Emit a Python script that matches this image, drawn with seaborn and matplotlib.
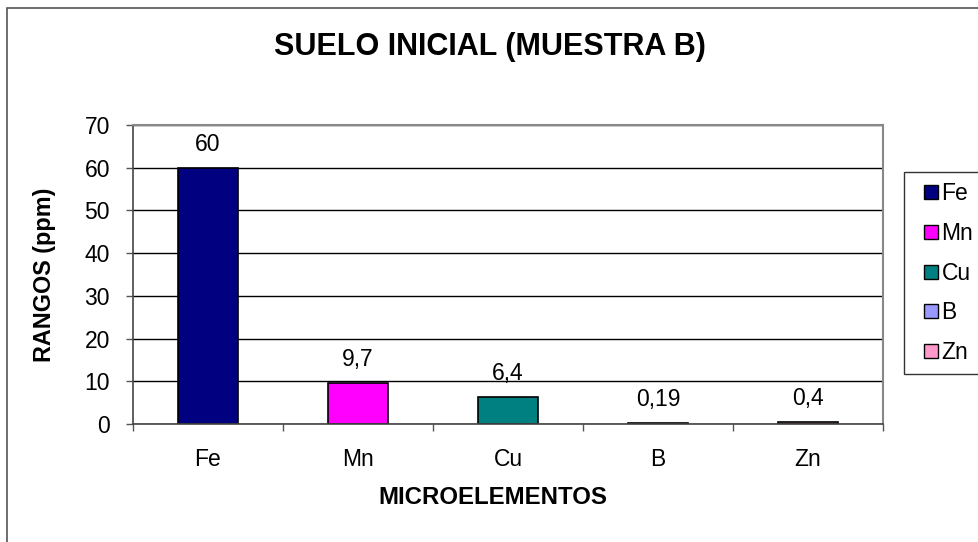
import matplotlib
matplotlib.use("Agg")
import matplotlib.pyplot as plt
import seaborn as sns
import pandas as pd
from matplotlib.patches import Rectangle
from matplotlib.lines import Line2D

categories = ["Fe", "Mn", "Cu", "B", "Zn"]
values = [60, 9.7, 6.4, 0.19, 0.4]
value_labels = ["60", "9,7", "6,4", "0,19", "0,4"]
colors = ["#000080", "#FF00FF", "#008080", "#9999FF", "#FF99CC"]
yticks = [0, 10, 20, 30, 40, 50, 60, 70]

sns.set_theme(style="white")
plt.rcParams["font.family"] = ["Liberation Sans", "DejaVu Sans"]
plt.rcParams.update({"text.color": "black", "axes.labelcolor": "black",
                     "xtick.color": "black", "ytick.color": "black"})

df = pd.DataFrame({"elem": categories, "val": values})

W, H = 979, 542
fig = plt.figure(figsize=(W / 100, H / 100), dpi=100)
fig.patch.set_facecolor("white")

# outer chart border
fig.add_artist(Rectangle((7 / W, -0.1), 1.2, 1 - 8 / H + 0.1, transform=fig.transFigure,
                         fill=False, edgecolor="#555555", lw=1.2))

ax = fig.add_axes([133 / W, 1 - 424 / H, 750 / W, 299 / H])
sns.barplot(data=df, x="elem", y="val", hue="elem", palette=colors, dodge=False,
            saturation=1, width=0.4, edgecolor="black", linewidth=1.2, legend=False, ax=ax)

ax.set_xlim(-0.5, 4.5)
ax.set_ylim(0, 70)
ax.set_yticks(yticks)
ax.set_yticklabels([str(t) for t in yticks], fontsize=16.5)
ax.yaxis.grid(True, color="black", lw=1)
ax.set_axisbelow(True)

ax.set_xticks([i - 0.5 for i in range(len(categories) + 1)])
ax.set_xticklabels([])
ax.set_xticks(range(len(categories)), minor=True)
ax.set_xticklabels(categories, minor=True, fontsize=16.5)
ax.tick_params(axis="x", which="major", length=5, width=1, color="#555555", direction="out", bottom=True)
ax.tick_params(axis="x", which="minor", length=0, pad=17)
ax.tick_params(axis="y", length=5, width=1, color="#555555", direction="out", left=True, pad=11.5)

for s in ["top", "right"]:
    ax.spines[s].set_color("#888888")
    ax.spines[s].set_linewidth(1.5)
for s in ["left", "bottom"]:
    ax.spines[s].set_color("#444444")
    ax.spines[s].set_linewidth(1.2)

for i, (v, lab) in enumerate(zip(values, value_labels)):
    ax.annotate(lab, (i, v), xytext=(0, 12), textcoords="offset pixels",
                ha="center", va="bottom", fontsize=16.5)

ax.set_xlabel("MICROELEMENTOS", fontsize=17.3, fontweight="bold")
ax.xaxis.set_label_coords((493 - 133) / 750, (424 - 498) / 299)
ax.xaxis.label.set_va("center")
ax.set_ylabel("RANGOS (ppm)", fontsize=16.8, fontweight="bold")
ax.yaxis.set_label_coords((45 - 133) / 750, 0.5)
ax.yaxis.label.set_va("center")

fig.text(490 / W, 1 - 47 / H, "SUELO INICIAL (MUESTRA B)", ha="center", va="center",
         fontsize=22, fontweight="bold")

handles = [Line2D([], [], ls="none", marker="s", markersize=9.4, markerfacecolor=c,
                  markeredgecolor="black", markeredgewidth=1) for c in colors]
leg = fig.legend(handles, categories, loc="upper left", bbox_to_anchor=(904 / W, 1 - 172 / H),
                 fontsize=16.5, frameon=True, fancybox=False, edgecolor="black",
                 handlelength=1.5, handletextpad=-0.28, numpoints=1,
                 labelspacing=0.74, borderpad=0.42, borderaxespad=0)
leg.get_frame().set_linewidth(1)

fig.savefig("out.png", dpi=100, facecolor="white")
